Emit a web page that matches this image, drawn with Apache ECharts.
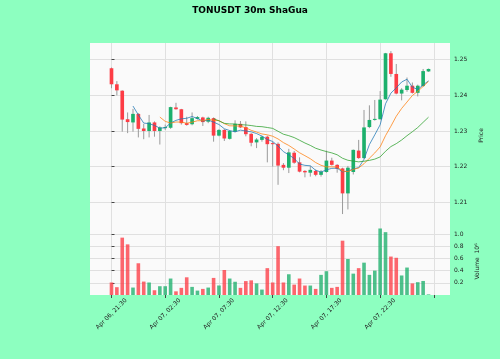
<!DOCTYPE html>
<html>
<head>
<meta charset="utf-8">
<script src="https://cdn.jsdelivr.net/npm/echarts@6/dist/echarts.min.js"></script>
<style>
html,body{margin:0;padding:0;background:#8dffc0;}
#chart{width:500px;height:359px;}
</style>
</head>
<body>
<div id="chart"></div>
<script>
// ---- data (30m candles, Apr 06 21:30 onward) ----
const opens = [1.2476,1.2431,1.2413,1.2333,1.2324,1.2348,1.2307,1.2300,1.2324,1.2300,
1.2308,1.2309,1.2366,1.2361,1.2322,1.2319,1.2334,1.2338,1.2326,1.2336,
1.2287,1.2303,1.2278,1.2298,1.2320,1.2311,1.2292,1.2268,1.2275,1.2284,
1.2266,1.2264,1.2205,1.2197,1.2239,1.2212,1.2188,1.2183,1.2188,1.2177,
1.2185,1.2217,1.2205,1.2195,1.2125,1.2185,1.2245,1.2224,1.2311,1.2331,
1.2333,1.2389,1.2518,1.2460,1.2405,1.2415,1.2427,1.2407,1.2426,1.2467];
const closes = [1.2431,1.2414,1.2332,1.2325,1.2348,1.2306,1.2300,1.2324,1.2300,1.2310,
1.2311,1.2367,1.2361,1.2322,1.2317,1.2336,1.2339,1.2325,1.2337,1.2287,
1.2303,1.2279,1.2300,1.2320,1.2310,1.2291,1.2267,1.2276,1.2284,1.2263,
1.2263,1.2203,1.2197,1.2240,1.2211,1.2186,1.2184,1.2191,1.2177,1.2186,
1.2217,1.2205,1.2194,1.2125,1.2197,1.2247,1.2224,1.2310,1.2331,1.2334,
1.2388,1.2518,1.2460,1.2405,1.2416,1.2427,1.2407,1.2427,1.2468,1.2474];
const highs = [1.2478,1.2440,1.2414,1.2352,1.2362,1.2350,1.2320,1.2345,1.2327,1.2313,
1.2318,1.2368,1.2379,1.2362,1.2340,1.2352,1.2342,1.2340,1.2340,1.2338,
1.2305,1.2305,1.2302,1.2330,1.2328,1.2327,1.2294,1.2280,1.2287,1.2287,
1.2270,1.2268,1.2210,1.2250,1.2244,1.2226,1.2190,1.2202,1.2192,1.2190,
1.2245,1.2225,1.2207,1.2197,1.2202,1.2248,1.2275,1.2359,1.2372,1.2387,
1.2412,1.2519,1.2524,1.2488,1.2420,1.2450,1.2436,1.2430,1.2474,1.2475];
const lows = [1.2420,1.2400,1.2298,1.2294,1.2298,1.2282,1.2277,1.2282,1.2284,1.2262,
1.2303,1.2306,1.2360,1.2318,1.2315,1.2316,1.2332,1.2314,1.2322,1.2270,
1.2285,1.2272,1.2276,1.2296,1.2308,1.2285,1.2257,1.2252,1.2270,1.2212,
1.2200,1.2149,1.2190,1.2182,1.2208,1.2184,1.2170,1.2172,1.2173,1.2172,
1.2183,1.2203,1.2183,1.2067,1.2080,1.2178,1.2222,1.2222,1.2308,1.2329,
1.2332,1.2388,1.2452,1.2403,1.2386,1.2410,1.2405,1.2397,1.2424,1.2466];
// volume in units of 10^6
const volumes = [0.205,0.128,0.94,0.83,0.122,0.52,0.22,0.205,0.078,0.144,
0.144,0.27,0.06,0.117,0.29,0.133,0.072,0.10,0.122,0.28,
0.156,0.41,0.27,0.217,0.117,0.228,0.24,0.19,0.089,0.44,
0.205,0.80,0.205,0.34,0.17,0.27,0.155,0.155,0.10,0.33,
0.39,0.117,0.133,0.89,0.59,0.35,0.44,0.53,0.33,0.40,
1.09,1.03,0.63,0.61,0.32,0.45,0.19,0.21,0.23,0.01];
const xTickPos = [0,10,20,30,40,50,60];
const xTickLabels = ["Apr 06, 21:30","Apr 07, 02:30","Apr 07, 07:30","Apr 07, 12:30","Apr 07, 17:30","Apr 07, 22:30",""];
const priceTicks = [1.21,1.22,1.23,1.24,1.25];
const volTicks = [0.2,0.4,0.6,0.8,1.0];
const maPeriods = [5,10,20];
const maColors = ['#1f77b4','#ff7f0e','#2ca02c'];

const UP = '#1cb06c', DOWN = '#fd3c45';
const FONT = 'DejaVu Sans';

function movingAverage(n){
  const out = [];
  for (let i = n - 1; i < closes.length; i++) {
    let s = 0;
    for (let k = i - n + 1; k <= i; k++) s += closes[k];
    out.push([i, s / n]);
  }
  return out;
}

const candleData = closes.map((c, i) => [i, opens[i], c, lows[i], highs[i]]);
const volData = volumes.map((v, i) => [i, v]);

function renderCandle(params, api){
  const x = api.value(0), o = api.value(1), c = api.value(2), l = api.value(3), h = api.value(4);
  const pO = api.coord([x, o]), pC = api.coord([x, c]);
  const pL = api.coord([x, l]), pH = api.coord([x, h]);
  const w = api.size([1, 0])[0] * 0.68;
  const up = c >= o;
  const top = Math.min(pO[1], pC[1]);
  const hgt = Math.max(Math.abs(pO[1] - pC[1]), 1);
  return {type:'group', children:[
    {type:'line', shape:{x1:pH[0], y1:pH[1], x2:pL[0], y2:pL[1]}, style:{stroke:'#9a9a9a', lineWidth:1}},
    {type:'rect', shape:{x:pO[0]-w/2, y:top, width:w, height:hgt}, style:{fill: up ? UP : DOWN}}
  ]};
}

const chart = echarts.init(document.getElementById('chart'), null, {renderer:'canvas'});
const gridLine = {show:true, lineStyle:{color:'#e0e0e0', width:1}};
const option = {
  backgroundColor:'#8dffc0',
  animation:false,
  textStyle:{fontFamily:FONT},
  title:{text:'TONUSDT 30m ShaGua', left:'center', top:1,
    textStyle:{fontFamily:FONT, fontSize:9, fontWeight:'bold', color:'#000'}},
  grid:[
    {left:90, right:50, top:43, height:185, show:true, backgroundColor:'#fafafa', borderWidth:0},
    {left:90, right:50, top:228, height:67, show:true, backgroundColor:'#fafafa', borderWidth:0}
  ],
  xAxis:[
    {type:'value', gridIndex:0, min:-4, max:63,
      axisLine:{show:false}, axisTick:{show:false, customValues:xTickPos},
      axisLabel:{show:false, customValues:xTickPos}, splitLine:gridLine},
    {type:'value', gridIndex:1, min:-4, max:63,
      axisLine:{show:false},
      axisTick:{show:true, length:3, customValues:xTickPos, lineStyle:{color:'#444'}},
      axisLabel:{show:true, customValues:xTickPos, rotate:45, align:'center', verticalAlign:'middle',
        margin:19, fontSize:6, color:'#222', fontFamily:FONT,
        formatter:(v) => { const k = xTickPos.indexOf(Math.round(v)); return k >= 0 ? xTickLabels[k] : ''; }},
      splitLine:gridLine}
  ],
  yAxis:[
    {type:'value', gridIndex:0, position:'right', min:1.20279, max:1.25468,
      axisLine:{show:false},
      axisTick:{show:true, length:3, customValues:priceTicks, lineStyle:{color:'#444'}},
      axisLabel:{customValues:priceTicks, fontSize:6, color:'#222', margin:4, fontFamily:FONT,
        formatter:(v)=>v.toFixed(2)},
      splitLine:gridLine,
      name:'Price', nameLocation:'middle', nameGap:19, nameRotate:90,
      nameTextStyle:{fontSize:6, color:'#222', fontFamily:FONT}},
    {type:'value', gridIndex:1, position:'right', min:0, max:1.098,
      axisLine:{show:false},
      axisTick:{show:true, length:3, customValues:volTicks, lineStyle:{color:'#444'}},
      axisLabel:{customValues:volTicks, fontSize:6, color:'#222', margin:4, fontFamily:FONT,
        formatter:(v)=>v.toFixed(1)},
      splitLine:gridLine,
      name:'Volume  10\u2076', nameLocation:'middle', nameGap:19, nameRotate:90,
      nameTextStyle:{fontSize:6, color:'#222', fontFamily:FONT}}
  ],
  series:[
    {type:'custom', xAxisIndex:0, yAxisIndex:0, renderItem:renderCandle, data:candleData,
      encode:{x:0, y:[1,2,3,4]}, z:3},
    ...maPeriods.map((n, k) => ({type:'line', xAxisIndex:0, yAxisIndex:0, data:movingAverage(n),
      showSymbol:false, symbol:'none', smooth:false, z:4,
      lineStyle:{color:maColors[k], width:0.9, opacity:0.85}})),
    {type:'bar', xAxisIndex:1, yAxisIndex:1, data:volData, barWidth:3.6,
      itemStyle:{color:(p)=> closes[p.dataIndex] >= opens[p.dataIndex] ? UP : DOWN, opacity:0.78}}
  ]
};
chart.setOption(option);
</script>
</body>
</html>
